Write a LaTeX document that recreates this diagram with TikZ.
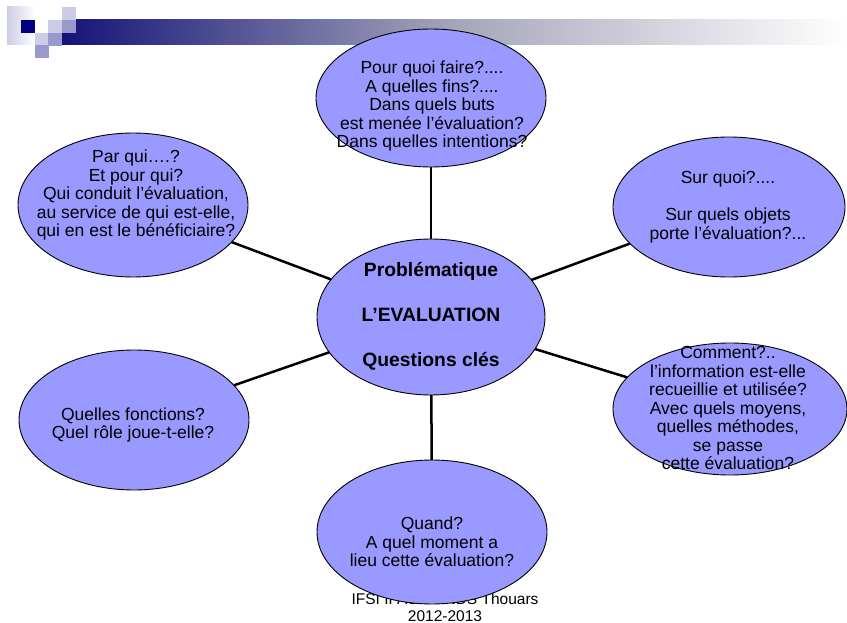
\documentclass[tikz,border=0pt]{standalone}
\usepackage{fontspec}
\setmainfont{Liberation Sans}
\usetikzlibrary{shapes.geometric}
\definecolor{bubblefill}{HTML}{9999FF}
\definecolor{hdnavy}{HTML}{000080}
\definecolor{hdlight}{HTML}{CCCCE6}
\definecolor{hdmid}{HTML}{9999CC}
\definecolor{barleft}{HTML}{141478}
\definecolor{barmid}{HTML}{A5A5BB}

\begin{document}
\begin{tikzpicture}[x=1pt,y=-1pt]
\tikzstyle{bubble}=[ellipse,draw=black,line width=0.9pt,fill=bubblefill,inner sep=0pt,outer sep=0pt]
\tikzstyle{txt}=[align=center,inner sep=0pt,font=\fontsize{17.5}{18.5}\selectfont]
\tikzstyle{link}=[line width=2.5pt]
\useasboundingbox (0,0) rectangle (847,623);
\shade[left color=hdlight,right color=white] (7,7) rectangle (35,45);
\shade[left color=barleft,right color=white,middle color=barmid] (62,20) rectangle (847,45);
\foreach \x/\y/\c in {21/20/hdnavy,48/20/hdlight,62/7/hdlight,62/20/hdmid,35/33/hdlight,48/33/hdmid,35/45/hdmid}
	\fill[\c] (\x,\y) rectangle ++(13.6,12.7);
\node[align=center,inner sep=0pt,font=\fontsize{15.5}{17}\selectfont] (foot) at (445,607) {IFSI IFAS CHNDS Thouars\\2012-2013};
\foreach \name/\point/\w/\h in {
	top/{431,98}/230/138,
	mid/{431,317}/228/156,
	ul/{133,205}/230/144,
	ur/{729,207}/232/140,
	ll/{134,420}/230/140,
	lr/{730,409}/234/132,
	bot/{432,532}/230/144}
	\node[bubble,minimum width=\w pt,minimum height=\h pt] (\name) at (\point) {};
\foreach \other in {top,ul,ur,ll,lr,bot}
	\draw[link] (mid) -- (\other);
\node[txt] (top-t) at (432,106) {Pour quoi faire?....\\A quelles fins?....\\Dans quels buts\\est menée l’évaluation?\\Dans quelles intentions?};
\node[txt] (ul-t) at (136,195) {Par qui….?\\Et pour qui?\\Qui conduit l’évaluation,\\au service de qui est-elle,\\qui en est le bénéficiaire?};
\node[txt] (ur-t) at (728,207) {Sur quoi?....\\[18.5pt]Sur quels objets\\porte l’évaluation?...};
\node[txt] (ll-t) at (133,425) {Quelles fonctions?\\Quel rôle joue-t-elle?};
\node[txt] (lr-t) at (728,408) {Comment?..\\l’information est-elle\\recueillie et utilisée?\\Avec quels moyens,\\quelles méthodes,\\se passe\\cette évaluation?};
\node[txt] (bot-t) at (432,542) {Quand?\\A quel moment a\\lieu cette évaluation?};
\node[txt,font=\fontsize{19.3}{45}\selectfont\bfseries] (mid-t) at (431,316) {Problématique\\L’EVALUATION\\Questions clés};
\end{tikzpicture}
\end{document}
